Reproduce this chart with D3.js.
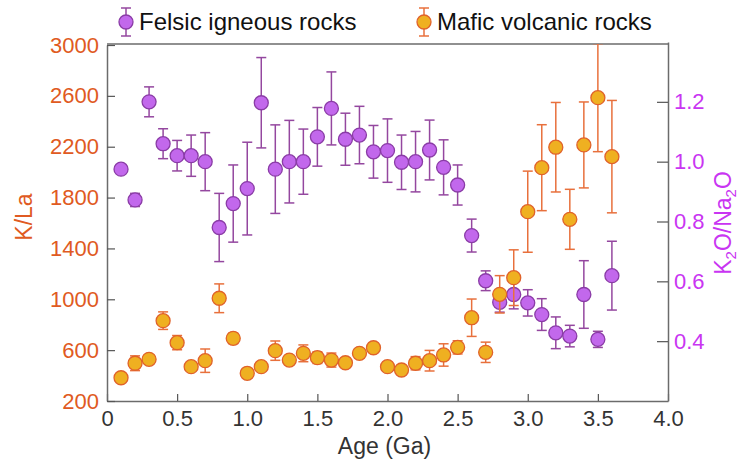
<!DOCTYPE html>
<html>
<head>
<meta charset="utf-8">
<script src="https://cdn.jsdelivr.net/npm/d3@7"></script>
<style>
  body { margin: 0; background: #fff; }
  svg { font-family: "Liberation Sans", Arial, sans-serif; }
</style>
</head>
<body>
<div id="chart"></div>
<script>
// Age bins (Ga)
var ages = [0.1, 0.2, 0.3, 0.4, 0.5, 0.6, 0.7, 0.8, 0.9, 1.0, 1.1, 1.2, 1.3, 1.4, 1.5, 1.6, 1.7, 1.8,
  1.9, 2.0, 2.1, 2.2, 2.3, 2.4, 2.5, 2.6, 2.7, 2.8, 2.9, 3.0, 3.1, 3.2, 3.3, 3.4, 3.5, 3.6];

// Felsic igneous rocks, K2O/Na2O (right axis)
var felsicValues = [0.975, 0.872, 1.200, 1.060, 1.020, 1.020, 1.000, 0.780, 0.860, 0.910, 1.197, 0.975,
  1.000, 1.000, 1.083, 1.178, 1.075, 1.089, 1.033, 1.037, 0.998, 1.000, 1.039, 0.981, 0.922, 0.753,
  0.602, 0.530, 0.556, 0.528, 0.489, 0.428, 0.417, 0.556, 0.406, 0.619];
var felsicErr = [0, 0.022, 0.050, 0.050, 0.051, 0.069, 0.097, 0.114, 0.129, 0.155, 0.151, 0.148,
  0.138, 0.109, 0.098, 0.122, 0.087, 0.096, 0.088, 0.106, 0.091, 0.101, 0.100, 0.092, 0.067, 0.055,
  0.033, 0.033, 0.048, 0.044, 0.053, 0.053, 0.036, 0.113, 0.027, 0.115];

// Mafic volcanic rocks, K/La (left axis)
var maficValues = [383, 497, 528, 832, 659, 470, 517, 1008, 693, 418, 470, 596, 522, 575, 541, 522,
  501, 575, 619, 470, 444, 497, 517, 562, 622, 855, 583, 1039, 1170, 1689, 2035, 2196, 1629, 2214,
  2586, 2122];
var maficErr = [0, 58, 0, 69, 56, 0, 92, 113, 42, 0, 0, 76, 0, 66, 46, 55, 0, 0, 0, 0, 0, 52, 81,
  88, 52, 147, 80, 147, 219, 319, 338, 352, 236, 338, 425, 442];

var xTicks = [0, 0.5, 1.0, 1.5, 2.0, 2.5, 3.0, 3.5, 4.0];
var leftTicks = [200, 600, 1000, 1400, 1800, 2200, 2600, 3000];
var rightTicks = [0.4, 0.6, 0.8, 1.0, 1.2];

var svgWidth = 743;
var svgHeight = 468;
var margin = { top: 44, right: 75, bottom: 67, left: 107 };
var width = svgWidth - margin.left - margin.right;
var height = svgHeight - margin.top - margin.bottom;

var orangeText = "#e05a22";
var purpleText = "#c935f2";
var felsicFill = "#c268ec", felsicStroke = "#8a3ca6", felsicBar = "#94479f";
var maficFill = "#efb021", maficStroke = "#e0622a", maficBar = "#e8703c";

var svg = d3.select("#chart")
  .append("svg")
  .attr("width", svgWidth)
  .attr("height", svgHeight);

var chartGroup = svg.append("g")
  .attr("transform", `translate(${margin.left}, ${margin.top})`);

var xScale = d3.scaleLinear().domain([0, 4]).range([0, width]);
var yLeft = d3.scaleLinear().domain([200, 3000]).range([height, 1]);
var yRight = d3.scaleLinear().domain([0.2, 1.4]).range([height, -2]);

chartGroup.append("clipPath")
  .attr("id", "plotClip")
  .append("rect")
  .attr("width", width)
  .attr("height", height);

// axes
var bottomAxis = d3.axisBottom(xScale)
  .tickValues(xTicks)
  .tickSizeInner(-7).tickSizeOuter(0).tickPadding(9)
  .tickFormat(d => d === 0 ? "0" : d.toFixed(1));
var leftAxis = d3.axisLeft(yLeft)
  .tickValues(leftTicks)
  .tickSizeInner(-8).tickSizeOuter(0).tickPadding(8)
  .tickFormat(d3.format("d"));
var rightAxis = d3.axisRight(yRight)
  .tickValues(rightTicks)
  .tickSizeInner(-11).tickSizeOuter(0).tickPadding(6)
  .tickFormat(d3.format(".1f"));

var gx = chartGroup.append("g")
  .attr("transform", `translate(0, ${height})`)
  .call(bottomAxis);
gx.selectAll("text").attr("fill", "#333").style("font-size", "22px");

var gl = chartGroup.append("g").call(leftAxis);
gl.selectAll("text").attr("fill", orangeText).style("font-size", "22px");

var gr = chartGroup.append("g")
  .attr("transform", `translate(${width}, 0)`)
  .call(rightAxis);
gr.selectAll("text").attr("fill", purpleText).style("font-size", "22px");

[gx, gl, gr].forEach(function(g) {
  g.select(".domain").attr("stroke", "#6b6b6b").attr("stroke-width", 1.5);
  g.selectAll(".tick line").attr("stroke", "#555").attr("stroke-width", 1.2);
});

// top frame line
chartGroup.append("line")
  .attr("x1", 0).attr("x2", width)
  .attr("y1", 0).attr("y2", 0)
  .attr("stroke", "#6b6b6b")
  .attr("stroke-width", 1.5);

function drawSeries(values, errs, yScale, fill, stroke, barColor) {
  var data = ages.map((a, i) => ({ age: a, v: values[i], e: errs[i] }));
  var g = chartGroup.append("g").attr("clip-path", "url(#plotClip)");
  var withErr = data.filter(d => d.e > 0);

  g.selectAll(".bar")
    .data(withErr)
    .enter()
    .append("line")
    .attr("x1", d => xScale(d.age))
    .attr("x2", d => xScale(d.age))
    .attr("y1", d => yScale(d.v - d.e))
    .attr("y2", d => yScale(d.v + d.e))
    .attr("stroke", barColor)
    .attr("stroke-width", 1.5);

  [-1, 1].forEach(function(s) {
    g.selectAll(".cap" + s)
      .data(withErr)
      .enter()
      .append("line")
      .attr("x1", d => xScale(d.age) - 5)
      .attr("x2", d => xScale(d.age) + 5)
      .attr("y1", d => yScale(d.v + s * d.e))
      .attr("y2", d => yScale(d.v + s * d.e))
      .attr("stroke", barColor)
      .attr("stroke-width", 1.5);
  });

  g.selectAll("circle")
    .data(data)
    .enter()
    .append("circle")
    .attr("cx", d => xScale(d.age))
    .attr("cy", d => yScale(d.v))
    .attr("r", 7)
    .attr("fill", fill)
    .attr("stroke", stroke)
    .attr("stroke-width", 1.3);
}

drawSeries(felsicValues, felsicErr, yRight, felsicFill, felsicStroke, felsicBar);
drawSeries(maficValues, maficErr, yLeft, maficFill, maficStroke, maficBar);

// axis titles
svg.append("text")
  .attr("transform", "translate(32, 217) rotate(-90)")
  .attr("text-anchor", "middle")
  .attr("fill", orangeText)
  .style("font-size", "23px")
  .text("K/La");

var rTitle = svg.append("text")
  .attr("transform", "translate(731, 223) rotate(-90)")
  .attr("text-anchor", "middle")
  .attr("fill", purpleText)
  .style("font-size", "23px");
rTitle.append("tspan").text("K");
rTitle.append("tspan").attr("dy", 5).style("font-size", "15px").text("2");
rTitle.append("tspan").attr("dy", -5).text("O/Na");
rTitle.append("tspan").attr("dy", 5).style("font-size", "15px").text("2");
rTitle.append("tspan").attr("dy", -5).text("O");

svg.append("text")
  .attr("x", margin.left + width / 2 - 3)
  .attr("y", 454)
  .attr("text-anchor", "middle")
  .attr("fill", "#333")
  .style("font-size", "23px")
  .text("Age (Ga)");

// legend
var legendItems = [
  { label: "Felsic igneous rocks", x: 126, fill: felsicFill, stroke: felsicStroke, bar: felsicBar },
  { label: "Mafic volcanic rocks", x: 424, fill: maficFill, stroke: maficStroke, bar: maficBar }
];
var legend = svg.append("g");
legendItems.forEach(function(item) {
  var lg = legend.append("g").attr("transform", `translate(${item.x}, 22)`);
  lg.append("line").attr("y1", -14).attr("y2", 14).attr("stroke", item.bar).attr("stroke-width", 1.5);
  lg.append("line").attr("x1", -5).attr("x2", 5).attr("y1", -14).attr("y2", -14).attr("stroke", item.bar).attr("stroke-width", 1.5);
  lg.append("line").attr("x1", -5).attr("x2", 5).attr("y1", 14).attr("y2", 14).attr("stroke", item.bar).attr("stroke-width", 1.5);
  lg.append("circle").attr("r", 7).attr("fill", item.fill).attr("stroke", item.stroke).attr("stroke-width", 1.3);
  lg.append("text")
    .attr("x", 13)
    .attr("y", 8)
    .attr("fill", "#111")
    .style("font-size", "24px")
    .text(item.label);
});
</script>
</body>
</html>
